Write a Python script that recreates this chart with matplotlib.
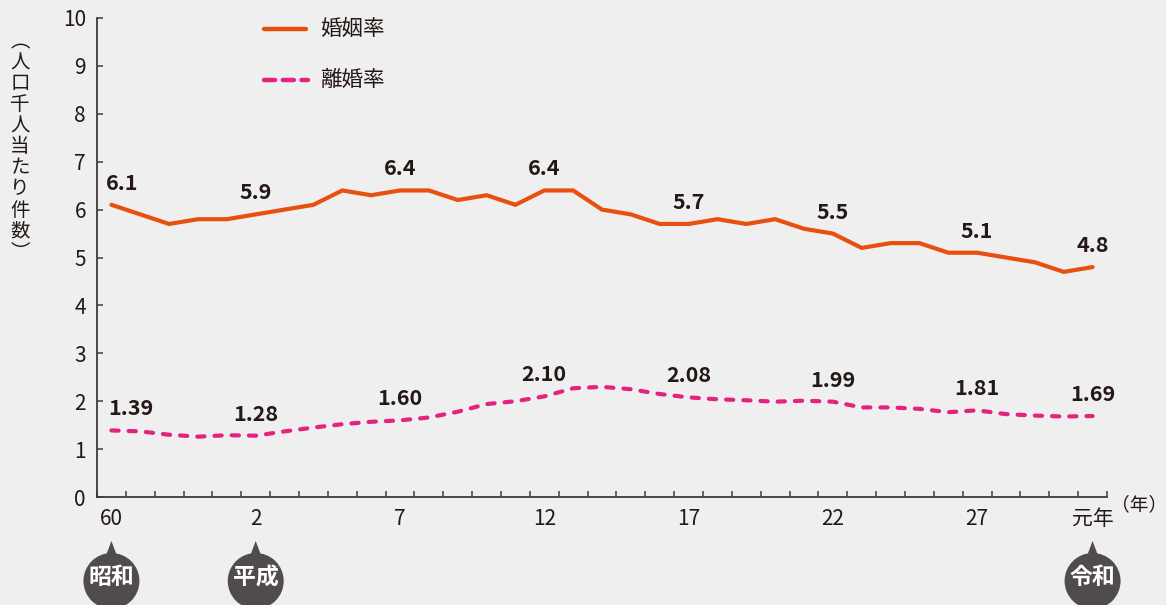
import matplotlib
matplotlib.use("Agg")
import matplotlib.pyplot as plt
from matplotlib.patches import Ellipse, Polygon
from matplotlib.lines import Line2D

plt.rcParams['font.family'] = ['Noto Sans CJK JP', 'DejaVu Sans']
plt.rcParams['lines.scale_dashes'] = False

# ---- data ----
years = list(range(1985, 2020))
marriage_rate = [6.1, 5.9, 5.7, 5.8, 5.8, 5.9, 6.0, 6.1, 6.4, 6.3,
                 6.4, 6.4, 6.2, 6.3, 6.1, 6.4, 6.4, 6.0, 5.9, 5.7,
                 5.7, 5.8, 5.7, 5.8, 5.6, 5.5, 5.2, 5.3, 5.3, 5.1,
                 5.1, 5.0, 4.9, 4.7, 4.8]
divorce_rate = [1.39, 1.37, 1.30, 1.26, 1.29, 1.28, 1.37, 1.45, 1.52, 1.57,
                1.60, 1.66, 1.78, 1.94, 2.00, 2.10, 2.27, 2.30, 2.25, 2.15,
                2.08, 2.04, 2.02, 1.99, 2.01, 1.99, 1.87, 1.87, 1.84, 1.77,
                1.81, 1.73, 1.70, 1.68, 1.69]
tick_idx = [0, 5, 10, 15, 20, 25, 30, 34]
tick_labels = ['60', '2', '7', '12', '17', '22', '27', '元年']
label_idx = [0, 5, 10, 15, 20, 25, 30, 34]
era_idx = [0, 5, 34]
era_names = ['昭和', '平成', '令和']
series_names = ['婚姻率', '離婚率']
ylabel_chars = ['︵', '人', '口', '千', '人', '当', 'た', 'り', '件', '数', '︶']

# ---- style ----
W, H = 1166, 605
BG = '#efefef'
ORANGE = '#e8500f'
PINK = '#e4237f'
TXT = '#231815'
AXC = '#3e3a39'
BADGE = '#4f4c4b'

def fx(x):
    return x / W

def fy(y):
    return 1 - y / H

fig = plt.figure(figsize=(W / 100, H / 100), dpi=100, facecolor=BG)
ax = fig.add_axes([fx(97), fy(497), (1107 - 97) / W, (497 - 18) / H])
ax.set_facecolor(BG)

x = list(range(len(years)))
ax.plot(x, marriage_rate, color=ORANGE, lw=3.0, solid_joinstyle='miter',
        solid_capstyle='round', zorder=3)
ax.plot(x, divorce_rate, color=PINK, lw=3.0, dashes=(5.2, 7.2),
        dash_capstyle='round', zorder=3)

ax.set_xlim(-0.5, len(years) - 0.5)
ax.set_ylim(0, 10)
for s in ['top', 'right']:
    ax.spines[s].set_visible(False)
for s in ['left', 'bottom']:
    ax.spines[s].set_color(AXC)
    ax.spines[s].set_linewidth(1.3)

ax.set_yticks(range(0, 11))
ax.set_yticklabels([str(v) for v in range(0, 11)], fontsize=15, color=TXT)
ax.tick_params(axis='y', direction='in', length=4, width=1.1, color=AXC, pad=8)

ax.set_xticks(tick_idx)
ax.set_xticklabels(tick_labels, fontsize=15, color=TXT)
ax.set_xticks([i - 0.5 for i in range(len(years) + 1)], minor=True)
ax.tick_params(axis='x', which='major', length=0, pad=8)
ax.tick_params(axis='x', which='minor', direction='in', length=4, width=1.1, color=AXC)

# value labels
for i in label_idx:
    dxm = 8 if i == 0 else 0
    dxd = 14 if i == 0 else 0
    ax.annotate(f'{marriage_rate[i]:.1f}', (i, marriage_rate[i]),
                xytext=(dxm, 15.5), textcoords='offset points',
                ha='center', va='center', fontsize=15.5, fontweight='bold', color=TXT)
    ax.annotate(f'{divorce_rate[i]:.2f}', (i, divorce_rate[i]),
                xytext=(dxd, 15.5), textcoords='offset points',
                ha='center', va='center', fontsize=15.5, fontweight='bold', color=TXT)

# legend
fig.add_artist(Line2D([fx(264), fx(306)], [fy(29), fy(29)], color=ORANGE, lw=3.2,
                      solid_capstyle='round'))
fig.text(fx(320), fy(29), series_names[0], fontsize=15.5, color=TXT, va='center', ha='left')
fig.add_artist(Line2D([fx(264), fx(308)], [fy(80), fy(80)], color=PINK, lw=3.2,
                      dashes=(8, 5.5), dash_capstyle='round'))
fig.text(fx(320), fy(80), series_names[1], fontsize=15.5, color=TXT, va='center', ha='left')

# y-axis label (vertical)
for k, ch in enumerate(ylabel_chars):
    fig.text(fx(20), fy(42 + 21 * k), ch, fontsize=14, color=TXT, ha='center', va='center')

# unit label
fig.text(fx(1139), fy(505), '（年）', fontsize=13.5, color=TXT, ha='center', va='center')

# era badges
fig.canvas.draw()
for i, name in zip(era_idx, era_names):
    px = ax.transData.transform((i, 0))[0]
    cx = px
    cy = 581
    r = 28
    fig.add_artist(Ellipse((fx(cx), fy(cy)), 2 * r / W, 2 * r / H,
                           facecolor=BADGE, edgecolor='none'))
    fig.add_artist(Polygon([(fx(cx - 6), fy(cy - r + 4)), (fx(cx), fy(541)),
                            (fx(cx + 6), fy(cy - r + 4))],
                           closed=True, facecolor=BADGE, edgecolor='none'))
    fig.text(fx(cx), fy(578), name, fontsize=16.5, fontweight='bold',
             color='white', ha='center', va='center')

fig.savefig('out.png', dpi=100, facecolor=BG)
